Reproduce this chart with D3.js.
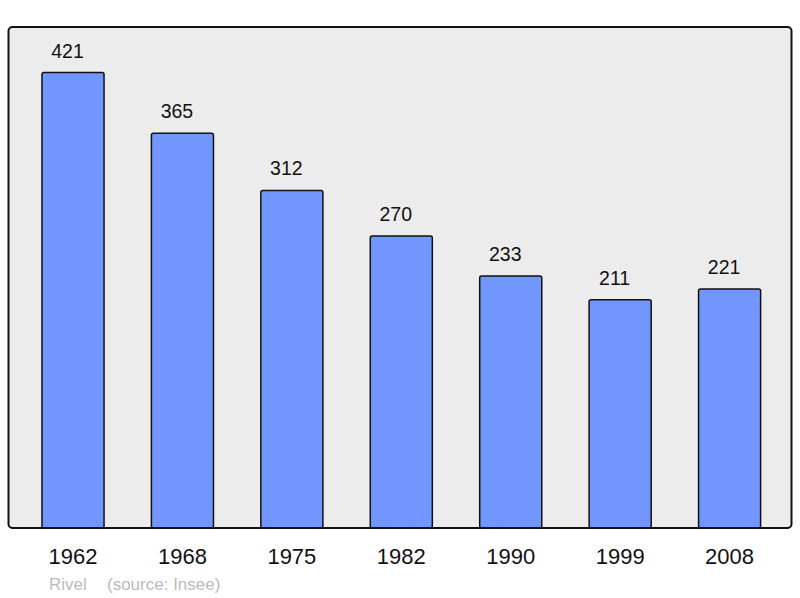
<!DOCTYPE html>
<html>
<head>
<meta charset="utf-8">
<script src="https://cdn.jsdelivr.net/npm/d3@7"></script>
<style>
  body { margin: 0; background: #fff; }
  svg { display: block; font-family: "Liberation Sans", Arial, sans-serif; }
</style>
</head>
<body>
<svg id="chart" width="800" height="598"></svg>
<script>
var years = ['1962', '1968', '1975', '1982', '1990', '1999', '2008'];
var population = [421, 365, 312, 270, 233, 211, 221];
var footerName = 'Rivel';
var footerSource = '(source: Insee)';

var svg = d3.select('#chart');

// panel
var panel = {left: 8.5, top: 27, right: 791.5, bottom: 528};

svg.append('rect')
  .attr('x', panel.left)
  .attr('y', panel.top)
  .attr('width', panel.right - panel.left)
  .attr('height', panel.bottom - panel.top)
  .attr('rx', 4)
  .attr('fill', '#ececec')
  .attr('stroke', '#111')
  .attr('stroke-width', 2);

var x = d3.scaleBand()
  .domain(years)
  .range([18.3, 784.3])
  .paddingInner(0.433)
  .paddingOuter(0.2165);

var y = d3.scaleLinear()
  .domain([0, 421 * 1.1])
  .range([panel.bottom, panel.top]);

var data = years.map(function (d, i) { return {year: d, value: population[i]}; });

svg.selectAll('rect.bar')
  .data(data)
  .enter()
  .append('rect')
  .attr('class', 'bar')
  .attr('x', function (d) { return x(d.year); })
  .attr('y', function (d) { return y(d.value); })
  .attr('width', x.bandwidth())
  .attr('height', function (d) { return y(0) - y(d.value); })
  .attr('rx', 2)
  .attr('fill', '#7197ff')
  .attr('stroke', '#111')
  .attr('stroke-width', 1.5);

// redraw bottom border over the bars
svg.append('line')
  .attr('x1', panel.left + 3)
  .attr('x2', panel.right - 3)
  .attr('y1', panel.bottom)
  .attr('y2', panel.bottom)
  .attr('stroke', '#111')
  .attr('stroke-width', 2);

// value labels sit a little left of the bar centre, like the original
svg.selectAll('text.value')
  .data(data)
  .enter()
  .append('text')
  .attr('class', 'value')
  .attr('x', function (d) { return x(d.year) + x.bandwidth() / 2 - 5.5; })
  .attr('y', function (d) { return y(d.value) - 15; })
  .attr('text-anchor', 'middle')
  .attr('font-size', 19.5)
  .attr('fill', '#111')
  .text(function (d) { return d.value; });

var xAxis = svg.append('g')
  .attr('transform', 'translate(0,' + panel.bottom + ')')
  .call(d3.axisBottom(x).tickSize(0).tickPadding(0));

xAxis.select('.domain').remove();
xAxis.selectAll('text')
  .attr('dy', null)
  .attr('y', 36.3)
  .attr('font-size', 22)
  .attr('font-family', '"Liberation Sans", Arial, sans-serif')
  .attr('fill', '#111');

svg.append('text')
  .attr('x', 49)
  .attr('y', 590)
  .attr('font-size', 17)
  .attr('fill', '#bbb')
  .text(footerName);

svg.append('text')
  .attr('x', 107)
  .attr('y', 590)
  .attr('font-size', 17)
  .attr('fill', '#bbb')
  .text(footerSource);
</script>
</body>
</html>
